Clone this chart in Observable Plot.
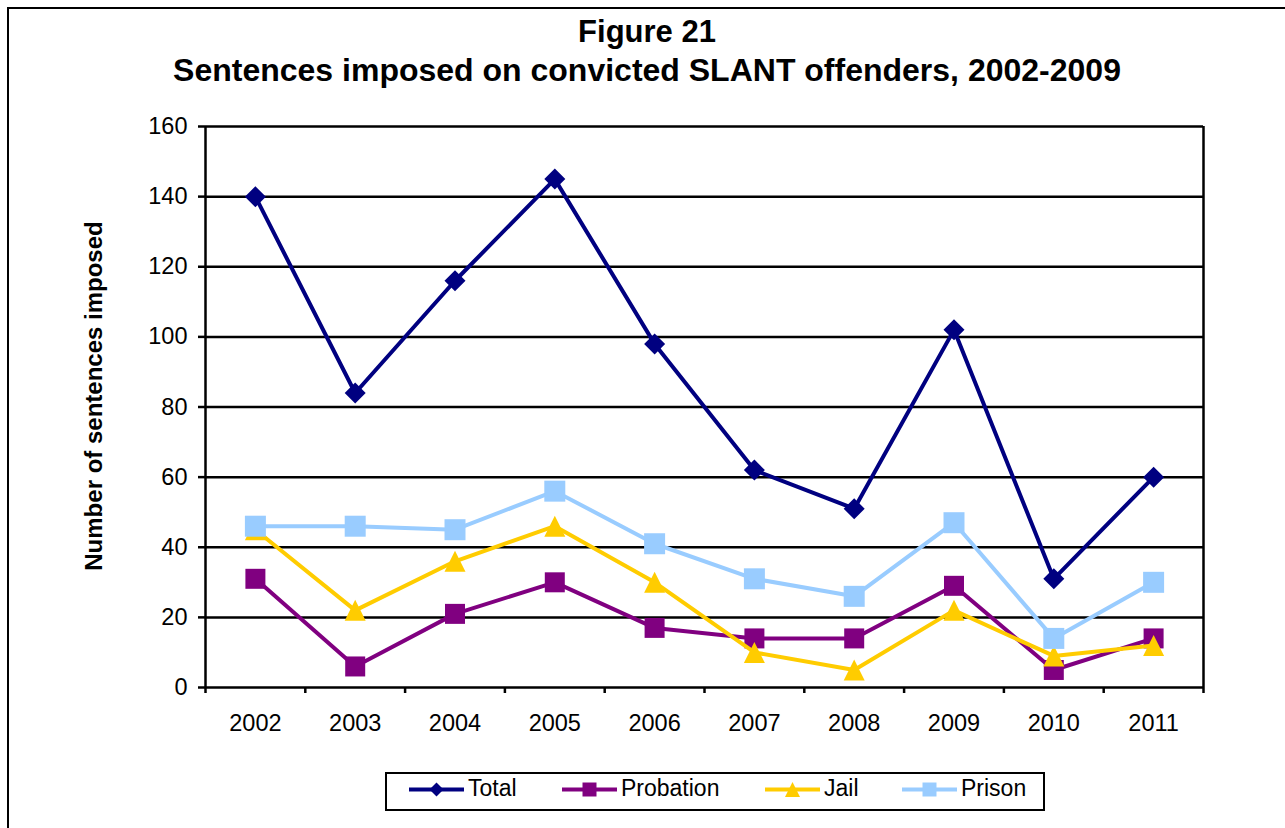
<!DOCTYPE html>
<html>
<head>
<meta charset="utf-8">
<script src="https://cdn.jsdelivr.net/npm/d3@7"></script>
<script src="https://cdn.jsdelivr.net/npm/@observablehq/plot@0.6"></script>
<style>
  html, body { margin: 0; padding: 0; background: #fff; }
  #page { position: relative; width: 1285px; height: 828px; overflow: hidden;
          font-family: "Liberation Sans", Arial, sans-serif; color: #000; }
  #frame { position: absolute; left: 7px; top: 7px; width: 1400px; height: 900px;
           border-left: 2.5px solid #000; border-top: 2.5px solid #000; }
  #title { position: absolute; left: 0; top: 13px; width: 1294px; text-align: center;
           font-weight: bold; font-size: 31px; line-height: 38px; }
  #title .sub { font-size: 32px; }
  #ylabel { position: absolute; left: 94px; top: 396px; white-space: nowrap;
            font-weight: bold; font-size: 24px; line-height: 1;
            transform: translate(-50%, -50%) rotate(-90deg); }
  #chart { position: absolute; left: 0; top: 0; }
  #legend { position: absolute; left: 385px; top: 772px; width: 656px; height: 35px;
            border: 2.5px solid #000; box-sizing: content-box; }
  .item { position: absolute; top: 0; height: 35px; }
  .item svg { position: absolute; top: 0; }
  .item span { position: absolute; top: 0; font-size: 23px; line-height: 35px; white-space: nowrap; }
</style>
</head>
<body>
<div id="page">
  <div id="frame"></div>
  <div id="chart"></div>
  <div id="title">Figure 21<br><span class="sub">Sentences imposed on convicted SLANT offenders, 2002-2009</span></div>
  <div id="ylabel">Number of sentences imposed</div>
  <div id="legend"></div>
</div>
<script>
// Sentences by year and type
const years     = [2002, 2003, 2004, 2005, 2006, 2007, 2008, 2009, 2010, 2011];
const total     = [140, 84, 116, 145, 98, 62, 51, 102, 31, 60];
const probation = [31, 6, 21, 30, 17, 14, 14, 29, 5, 14];
const jail      = [45, 22, 36, 46, 30, 10, 5, 22, 9, 12];
const prison    = [46, 46, 45, 56, 41, 31, 26, 47, 14, 30];

const seriesNames  = ["Total", "Probation", "Jail", "Prison"];
const seriesValues = [total, probation, jail, prison];
const seriesColors = ["#000080", "#800080", "#FFCC00", "#99CCFF"];
const yTicks = [0, 20, 40, 60, 80, 100, 120, 140, 160];

// Marker shapes that fill a square box of side sqrt(size)
const boxDiamond = { draw(ctx, size) { const h = Math.sqrt(size) / 2;
  ctx.moveTo(0, -h); ctx.lineTo(h, 0); ctx.lineTo(0, h); ctx.lineTo(-h, 0); ctx.closePath(); } };
const boxSquare = { draw(ctx, size) { const h = Math.sqrt(size) / 2;
  ctx.moveTo(-h, -h); ctx.lineTo(h, -h); ctx.lineTo(h, h); ctx.lineTo(-h, h); ctx.closePath(); } };
const boxTriangle = { draw(ctx, size) { const h = Math.sqrt(size) / 2;
  ctx.moveTo(0, -h); ctx.lineTo(h, h); ctx.lineTo(-h, h); ctx.closePath(); } };
const seriesSymbols = [boxDiamond, boxSquare, boxTriangle, boxSquare];
const markerBox = [21, 20, 21, 21];
const rFor = (box) => box / Math.sqrt(Math.PI);

// Category boundaries for the x-axis tick marks
const boundaries = years.map(y => y - 0.5).concat([years[years.length - 1] + 0.5]);

const seriesMarks = seriesNames.flatMap((name, k) => {
  const vals = seriesValues[k];
  return [
    Plot.line(vals, { x: (d, i) => years[i], y: d => d, stroke: seriesColors[k],
                      strokeWidth: 4, strokeLinejoin: "round" }),
    Plot.dot(vals, { x: (d, i) => years[i], y: d => d, symbol: seriesSymbols[k],
                     r: rFor(markerBox[k]), fill: seriesColors[k], stroke: "none" })
  ];
});

const chart = Plot.plot({
  width: 1285,
  height: 828,
  marginLeft: 205,
  marginRight: 82,
  marginTop: 126,
  marginBottom: 141,
  x: { domain: [boundaries[0], boundaries[boundaries.length - 1]] },
  y: { domain: [0, 160] },
  style: { fontFamily: "'Liberation Sans', Arial, sans-serif", fontSize: "23px",
           color: "#000", background: "transparent", overflow: "visible" },
  marks: [
    Plot.ruleY(yTicks.filter(d => d > 0), { stroke: "#000", strokeWidth: 2.5 }),
    Plot.axisY(yTicks, { tickSize: 7, tickPadding: 11, strokeWidth: 2.5, label: null,
                         fontSize: 23.5, tickFormat: d => String(d) }),
    Plot.axisX(boundaries, { tickSize: 6, tickFormat: () => "", strokeWidth: 2.5, label: null }),
    Plot.axisX(years, { tickSize: 0, tickPadding: 27, tickFormat: d => String(d),
                        label: null, fontSize: 23.5 }),
    Plot.ruleX([boundaries[0]], { stroke: "#000", strokeWidth: 2.5 }),
    Plot.ruleX([boundaries[boundaries.length - 1]], { stroke: "#000", strokeWidth: 2.5 }),
    Plot.ruleY([0], { stroke: "#000", strokeWidth: 2.5 }),
    ...seriesMarks
  ]
});
document.getElementById("chart").appendChild(chart);

// Legend: line segment with marker, followed by series name
const legendX = [22, 175, 378, 515];     // item offsets inside the box
const legendMarker = [14, 14, 15, 14];
const legend = document.getElementById("legend");
seriesNames.forEach((name, k) => {
  const item = document.createElement("div");
  item.className = "item";
  item.style.left = legendX[k] + "px";
  const svg = d3.create("svg").attr("width", 56).attr("height", 35);
  svg.append("line").attr("x1", 0).attr("x2", 55).attr("y1", 15.5).attr("y2", 15.5)
     .attr("stroke", seriesColors[k]).attr("stroke-width", 4);
  svg.append("path").attr("transform", "translate(27.5,15.5)")
     .attr("d", d3.symbol(seriesSymbols[k], legendMarker[k] * legendMarker[k])())
     .attr("fill", seriesColors[k]);
  item.appendChild(svg.node());
  const label = document.createElement("span");
  label.style.left = "59px";
  label.style.top = "-3px";
  label.textContent = name;
  item.appendChild(label);
  legend.appendChild(item);
});
</script>
</body>
</html>
